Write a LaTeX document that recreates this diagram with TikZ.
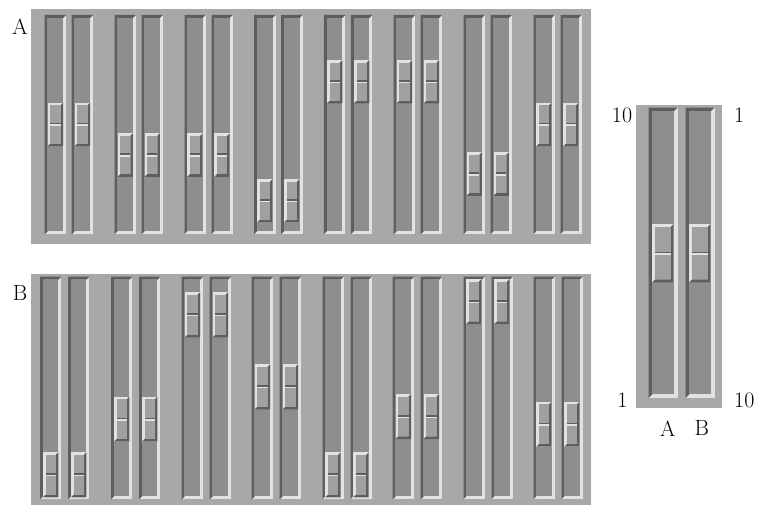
\documentclass[tikz,border=0pt]{standalone}
\usepackage{fontspec}
\usepackage{tikz}
\definecolor{panelbg}{HTML}{A8A8A8}
\definecolor{trackface}{HTML}{8E8E8E}
\definecolor{bevdark}{HTML}{5E5E5E}
\definecolor{bevlite}{HTML}{E2E2E2}
\definecolor{knobface}{HTML}{A0A0A0}
\tikzset{
  panel/.style={fill=panelbg},
  lbl/.style={font=\fontsize{22}{26}\selectfont, inner sep=0pt},
}
% groove: x y w h bevel
\newcommand{\groove}[5]{%
  \fill[bevlite] (#1,#2) rectangle ++(#3,#4);
  \fill[bevdark] (#1,#2+#4) -- (#1,#2) -- (#1+#3,#2) -- (#1+#3-#5,#2+#5) -- (#1+#5,#2+#5) -- (#1+#5,#2+#4-#5) -- cycle;
  \fill[trackface] (#1+#5,#2+#5) rectangle (#1+#3-#5,#2+#4-#5);
}
% knob: x y w h bevel
\newcommand{\knob}[5]{%
  \fill[bevlite] (#1,#2) rectangle ++(#3,#4);
  \fill[bevdark] (#1+#3,#2) -- (#1+#3,#2+#4) -- (#1,#2+#4) -- (#1+#5,#2+#4-#5) -- (#1+#3-#5,#2+#4-#5) -- (#1+#3-#5,#2+#5) -- cycle;
  \fill[knobface] (#1+#5,#2+#5) rectangle (#1+#3-#5,#2+#4-#5);
  \fill[bevdark] (#1+#5,#2+#4/2-1.6) rectangle (#1+#3-#5,#2+#4/2);
  \fill[bevlite] (#1,#2+#4/2) rectangle (#1+#3-#5,#2+#4/2+1.6);
}
% slider: x ytop w h bevel knobtop knobh knobbevel
\newcommand{\slider}[8]{%
  \groove{#1}{#2}{#3}{#4}{#5}%
  \knob{#1+#5}{#6}{#3-2*#5}{#7}{#8}%
}
\begin{document}
\begin{tikzpicture}[x=1pt,y=-1pt]
\useasboundingbox (0,0) rectangle (760,505);
% Panel A
\fill[panel] (31,9) rectangle (591,244);
\foreach \k/\t in {0/102.7,1/133.3,2/133.3,3/179,4/60,5/60,6/152.3,7/102.7}{
  \pgfmathsetmacro{\xx}{44.7+69.8*\k}
  \slider{\xx}{15}{21.4}{219.3}{3}{\t}{43.5}{2.6}
  \slider{\xx+27}{15}{21.4}{219.3}{3}{\t}{43.5}{2.6}
}
% Panel B
\fill[panel] (31,274) rectangle (591,505);
\foreach \xx/\t in {40/452.3,111/396.7,181.7/292.3,251.7/364.3,322.3/452.3,392.7/394,463.3/279,533.3/401.7}{
  \slider{\xx}{276.7}{21.4}{222.6}{3}{\t}{45}{2.6}
  \slider{\xx+28}{276.7}{21.4}{222.6}{3}{\t}{45}{2.6}
}
% Legend panel
\fill[panel] (636,105) rectangle (722.3,407.5);
\slider{648.3}{107.3}{29.4}{291}{4}{224}{58.3}{3}
\slider{685.3}{107.3}{29.4}{291}{4}{224}{58.3}{3}
% Labels
\node[lbl] (labA) at (20,27) {A};
\node[lbl] (labB) at (20,293) {B};
\node[lbl] (tl) at (622,115) {10};
\node[lbl, anchor=west] (tr) at (734,115) {1};
\node[lbl] (bl) at (622.5,400.7) {1};
\node[lbl, anchor=west] (br) at (734,400.7) {10};
\node[lbl] (legA) at (667.7,428.3) {A};
\node[lbl] (legB) at (701.7,428.3) {B};
\end{tikzpicture}
\end{document}
